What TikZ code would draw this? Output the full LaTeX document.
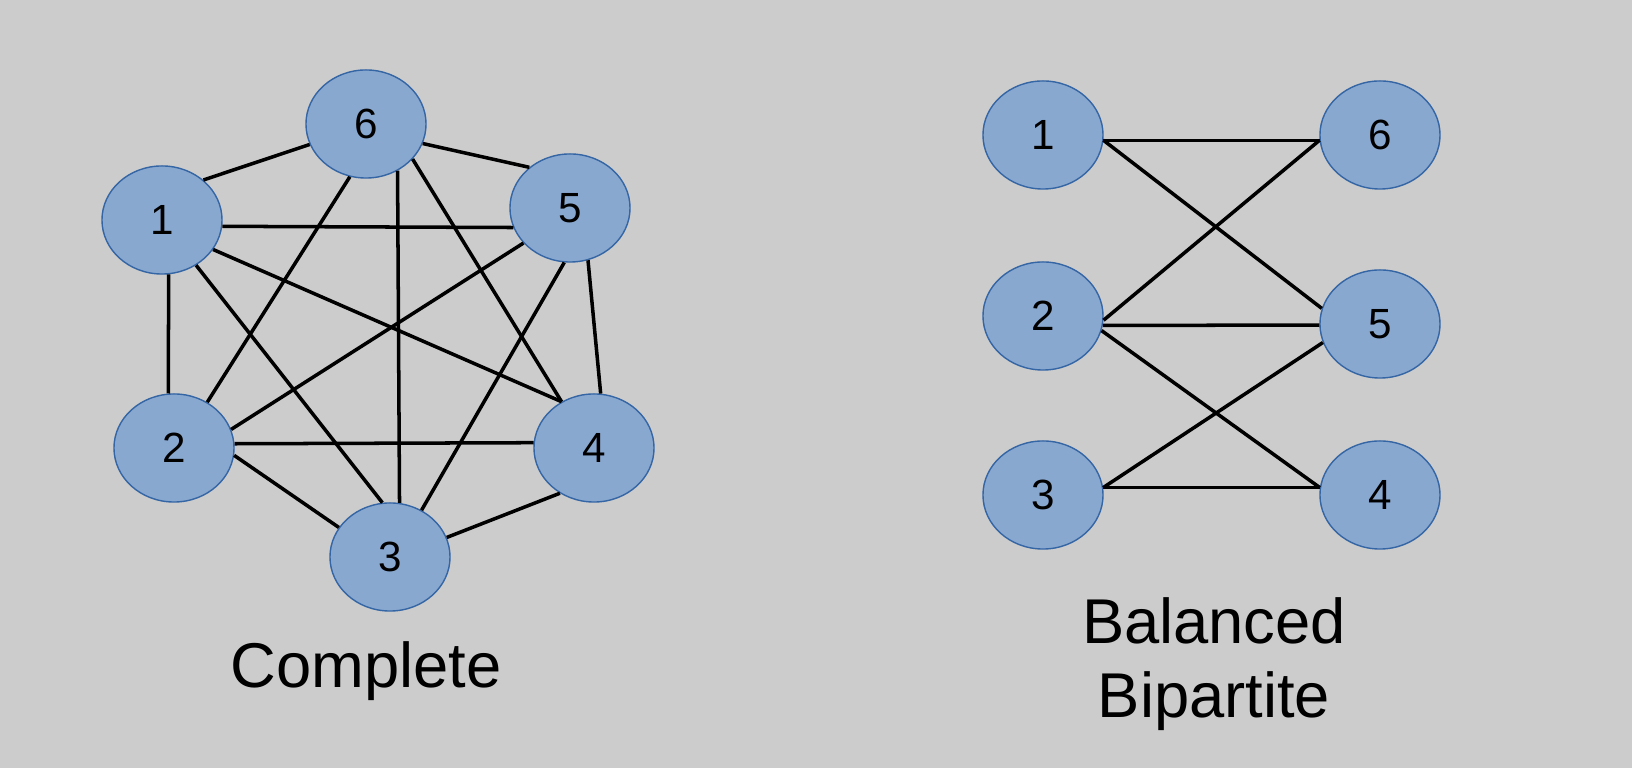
\documentclass[tikz,border=0pt]{standalone}
\usepackage{fontspec}
\setmainfont{Liberation Sans}
\usepackage{tikz}
\usetikzlibrary{shapes,positioning}
\definecolor{slidebg}{RGB}{204,204,204}
\definecolor{vertexfill}{RGB}{137,168,208}
\definecolor{vertexline}{RGB}{52,101,164}

\begin{document}
\begin{tikzpicture}[x=0.01cm, y=-0.01cm,
  vertex/.style={ellipse,draw=vertexline,fill=vertexfill,line width=0.4pt,
    minimum width=1.2cm,minimum height=1.08cm,inner sep=0pt,font=\fontsize{12}{14}\selectfont},
  link/.style={draw=black,line width=1pt},
  caption/.style={align=center,font=\fontsize{18}{21}\selectfont}]
  \fill[slidebg] (0,0) rectangle (1632,768);
  \useasboundingbox (0,0) rectangle (1632,768);
  % complete graph
  \node[vertex] (c6) at (366,124) {6};
  \node[vertex] (c1) at (162,220) {1};
  \node[vertex] (c5) at (570,208) {5};
  \node[vertex] (c2) at (174,448) {2};
  \node[vertex] (c4) at (594,448) {4};
  \node[vertex] (c3) at (390,557) {3};
  \draw[link] (c1.44) -- (c6.200);
  \draw[link] (c6.-19) -- (c5.135);
  \draw[link] (c1.-6) -- (c5.199);
  \draw[link] (c1.-83) -- (c2.96);
  \draw[link] (c1.-53) -- (c3.98);
  \draw[link] (c1.-30) -- (c4.125);
  \draw[link] (c6.-107) -- (c2.54);
  \draw[link] (c6.-56) -- (c3.80);
  \draw[link] (c6.-37) -- (c4.125);
  \draw[link] (c5.-143) -- (c2.18);
  \draw[link] (c5.-96) -- (c3.56);
  \draw[link] (c5.-71) -- (c4.83);
  \draw[link] (c2.4) -- (c4.175);
  \draw[link] (c2.-7) -- (c3.150);
  \draw[link] (c4.-127) -- (c3.19);
  \node[caption] (complete) at (366,671) {Complete};
  % balanced bipartite graph
  \node[vertex] (l1) at (1043,135) {1};
  \node[vertex] (l2) at (1043,316) {2};
  \node[vertex] (l3) at (1043,495) {3};
  \node[vertex] (r6) at (1380,135) {6};
  \node[vertex] (r5) at (1380,324) {5};
  \node[vertex] (r4) at (1380,495) {4};
  \draw[link] (l1.-5) -- (r6.185);
  \draw[link] (l1.-5) -- (r5.165);
  \draw[link] (l2.-4) -- (r6.185);
  \draw[link] (l2.-9) -- (r5.181);
  \draw[link] (l2.-14) -- (r4.173);
  \draw[link] (l3.7) -- (r5.198);
  \draw[link] (l3.7) -- (r4.173);
  \node[caption] (bipartite) at (1214,664) {Balanced\\Bipartite};
\end{tikzpicture}
\end{document}
